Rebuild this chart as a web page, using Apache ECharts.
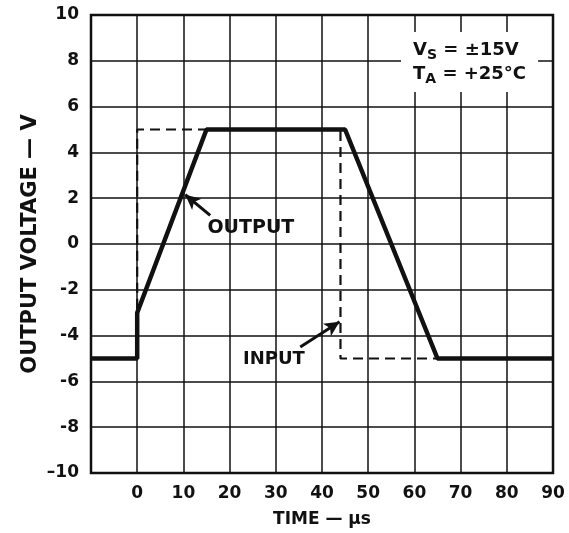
<!DOCTYPE html>
<html>
<head>
<meta charset="utf-8">
<script src="https://cdn.jsdelivr.net/npm/echarts@6/dist/echarts.min.js"></script>
<style>
  html, body { margin: 0; padding: 0; background: #fff; }
  #chart { width: 569px; height: 533px; }
</style>
</head>
<body>
<div id="chart"></div>
<script>
// time in µs, voltage in V
const outputPoints = [[-10, -5], [0, -5], [0, -3], [15, 5], [45, 5], [65, -5], [90, -5]];
const inputPoints = [[-10, -5], [0, -5], [0, 5], [44, 5], [44, -5], [90, -5]];

// callout arrows: [tail, head]
const outputArrow = [[15.8, 1.25], [10.4, 2.15]];
const inputArrow = [[35.3, -4.5], [43.8, -3.4]];
const outputLabelAt = [15.2, 0.7];
const inputLabelAt = [22.9, -5.05];

const FONT = "DejaVu Sans";
const INK = "#111";

const chart = echarts.init(document.getElementById("chart"));

chart.setOption({
  animation: false,
  backgroundColor: "#fff",
  grid: {
    left: 91,
    right: 16,
    top: 15,
    bottom: 56,
    show: true,
    borderColor: INK,
    borderWidth: 2.5,
    backgroundColor: "transparent",
  },
  xAxis: {
    type: "value",
    min: -10,
    max: 90,
    interval: 10,
    name: "TIME — µs",
    nameLocation: "middle",
    nameGap: 38,
    nameTextStyle: { fontFamily: FONT, fontWeight: "bold", fontSize: 17, color: INK },
    axisLine: { show: false },
    axisTick: { show: false },
    axisLabel: {
      margin: 12,
      fontFamily: FONT,
      fontWeight: "bold",
      fontSize: 17,
      color: INK,
      formatter: (v) => (v === -10 ? "" : String(v)),
    },
    splitLine: { lineStyle: { color: INK, width: 1.5 } },
  },
  yAxis: {
    type: "value",
    min: -10,
    max: 10,
    interval: 2,
    name: "OUTPUT VOLTAGE — V",
    nameLocation: "middle",
    nameGap: 50,
    nameMoveOverlap: false,
    nameTextStyle: { fontFamily: FONT, fontWeight: "bold", fontSize: 21, color: INK },
    axisLine: { show: false },
    axisTick: { show: false },
    axisLabel: {
      margin: 12,
      fontFamily: FONT,
      fontWeight: "bold",
      fontSize: 17,
      color: INK,
      formatter: (v) => (v === -10 ? "–10" : String(v)),
    },
    splitLine: { lineStyle: { color: INK, width: 1.5 } },
  },
  series: [
    {
      name: "INPUT",
      type: "line",
      data: inputPoints,
      showSymbol: false,
      lineStyle: { color: INK, width: 2.2, type: [10, 6] },
      z: 3,
      markLine: {
        silent: true,
        symbol: ["none", "arrow"],
        symbolSize: [11, 15],
        lineStyle: { color: INK, width: 3, type: "solid" },
        label: { show: false },
        data: [[{ coord: inputArrow[0] }, { coord: inputArrow[1] }]],
      },
      markPoint: {
        silent: true,
        symbol: "circle",
        symbolSize: 0,
        label: {
          show: true,
          position: "right",
          distance: 0,
          formatter: "INPUT",
          fontFamily: FONT,
          fontWeight: "bold",
          fontSize: 18,
          color: INK,
        },
        data: [{ coord: inputLabelAt }],
      },
    },
    {
      name: "OUTPUT",
      type: "line",
      data: outputPoints,
      showSymbol: false,
      lineStyle: { color: INK, width: 4.5 },
      z: 4,
      markLine: {
        silent: true,
        symbol: ["none", "arrow"],
        symbolSize: [11, 15],
        lineStyle: { color: INK, width: 3, type: "solid" },
        label: { show: false },
        data: [[{ coord: outputArrow[0] }, { coord: outputArrow[1] }]],
      },
      markPoint: {
        silent: true,
        symbol: "circle",
        symbolSize: 0,
        label: {
          show: true,
          position: "right",
          distance: 0,
          formatter: "OUTPUT",
          fontFamily: FONT,
          fontWeight: "bold",
          fontSize: 19,
          color: INK,
        },
        data: [{ coord: outputLabelAt }],
      },
    },
  ],
  graphic: [
    {
      type: "text",
      left: 401,
      top: 32,
      z: 10,
      style: {
        text: "V{sub|S} = ±15V\nT{sub|A} = +25°C",
        fontFamily: FONT,
        fontWeight: "bold",
        fontSize: 18,
        lineHeight: 24,
        fill: INK,
        backgroundColor: "#fff",
        padding: [6, 12, 6, 12],
        rich: {
          sub: {
            fontFamily: FONT,
            fontWeight: "bold",
            fontSize: 14,
            verticalAlign: "bottom",
            padding: [8, 0, 0, 0],
            fill: INK,
          },
        },
      },
    },
  ],
});
</script>
</body>
</html>
